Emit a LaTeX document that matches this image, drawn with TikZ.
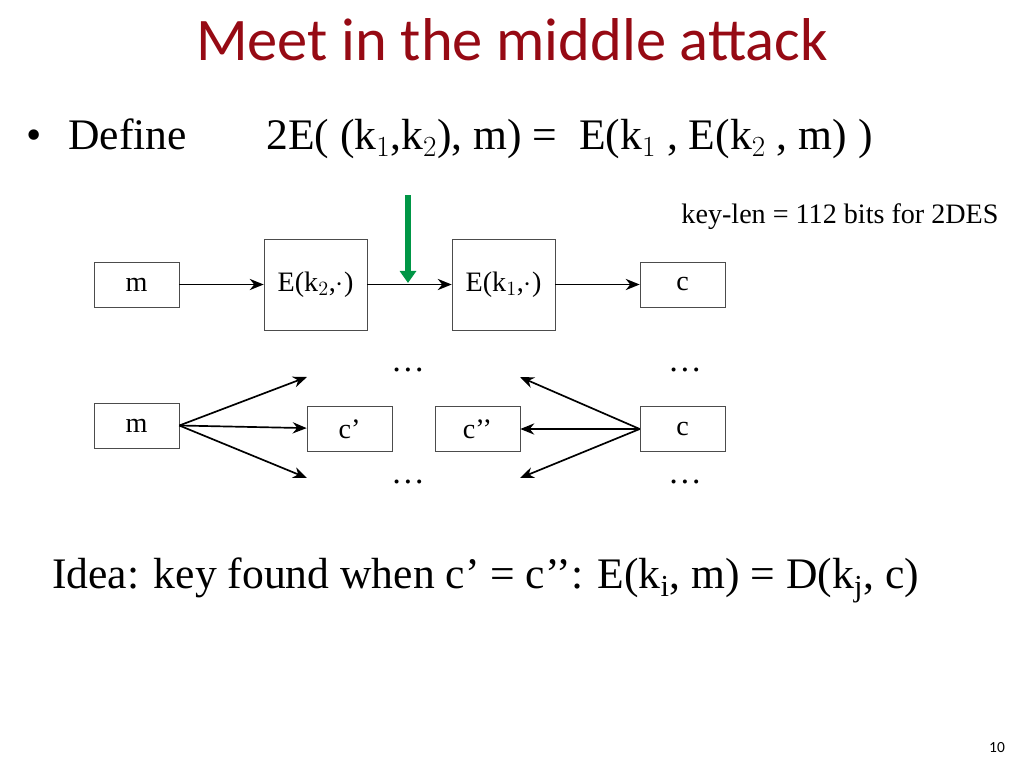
\documentclass[tikz,border=0pt]{standalone}
\usepackage{fontspec}
\setmainfont{Liberation Serif}
\newfontfamily\titlefont{Carlito}
\usetikzlibrary{positioning,arrows.meta,calc}
\definecolor{mimRed}{RGB}{150,10,20}
\definecolor{mimGreen}{RGB}{0,150,70}
\tikzset{
    blk/.style={draw=black!70, fill=white, minimum width=2.125cm, minimum height=1.125cm, inner sep=0pt, font=\fontsize{20}{23}\selectfont},
    bigblk/.style={blk, minimum width=2.575cm, minimum height=2.275cm},
    flow/.style={-{Stealth[length=3.5mm,width=2.8mm]}, line width=1.2pt},
    dots/.style={font=\fontsize{24}{26}\selectfont},
    body/.style={font=\fontsize{31}{35}\selectfont, anchor=base west, inner sep=0pt}
}
\begin{document}
\begin{tikzpicture}[x=0.025cm,y=-0.025cm]
  \useasboundingbox (0,0) rectangle (1024,768);
  % Title
  \node[text=mimRed, font=\titlefont\fontsize{43}{47}\selectfont] (title) at (512,40) {Meet in the middle attack};
  \node[body] (bul) at (26,150) {\textbullet};
  \node[body] (def) at (68,150) {Define};
  \node[body] (eq) at (266,150) {2E( (k$_1$,k$_2$), m) = \ E(k$_1$ , E(k$_2$ , m) )};
  \node[font=\fontsize{20}{23}\selectfont] (klen) at (840,217) {key-len = 112 bits for 2DES};

  % Top row
  \node[blk] (m1) at (136.5,284.5) {m};
  \node[bigblk] (ek2) at (315.5,284.5) {E(k$_2$,$\cdot$)};
  \node[bigblk] (ek1) at (503.5,284.5) {E(k$_1$,$\cdot$)};
  \node[blk] (c1) at (682.5,284.5) {c};
  \draw[flow] (m1) -- (ek2);
  \draw[flow] (ek2) -- (ek1);
  \draw[flow] (ek1) -- (c1);
  \coordinate (gtop) at (408,195);
  \coordinate (gbot) at (408,283);
  \draw[-{Triangle[length=3mm,width=4mm]}, line width=1.6mm, mimGreen] (gtop) -- (gbot);

  % Bottom row
  \node[blk] (m2) at (136.5,425.5) {m};
  \node[blk] (cp) at (349.5,429) {c'};
  \node[blk] (cpp) at (477.5,429) {c’’};
  \node[blk] (c2) at (682.5,429) {c};
  \coordinate (lu) at (307,377);
  \coordinate (ld) at (307,478);
  \coordinate (ru) at (520,377);
  \coordinate (rd) at (520,478);
  \draw[flow] (m2.east) -- (lu);
  \draw[flow] (m2.east) -- (cp);
  \draw[flow] (m2.east) -- (ld);
  \draw[flow] (c2.west) -- (ru);
  \draw[flow] (c2.west) -- (cpp);
  \draw[flow] (c2.west) -- (rd);
  \foreach \x/\y [count=\i] in {408/370,685/370,408/482,685/482}
    \node[dots] (dt\i) at (\x,\y) {\dots};

  % Idea
  \node[body] (idea) at (52,588) {Idea: key found when c’ = c’’: E(k$_\mathrm{i}$, m) = D(k$_\mathrm{j}$, c)};
  \node[font=\titlefont\fontsize{11}{13}\selectfont] (pg) at (997,748) {10};
\end{tikzpicture}
\end{document}
